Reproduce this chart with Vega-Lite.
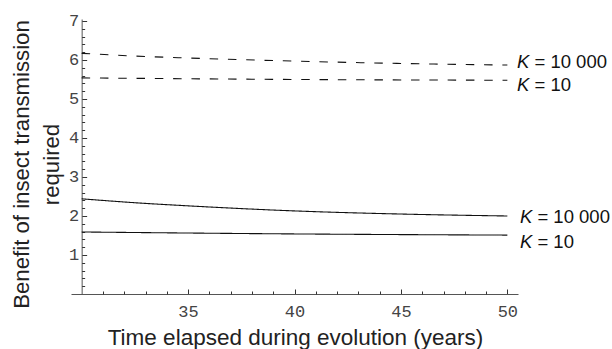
{
  "$schema": "https://vega.github.io/schema/vega-lite/v6.json",
  "width": 447,
  "height": 275,
  "autosize": {"type": "none"},
  "padding": {"left": 71, "top": 19, "right": 94, "bottom": 55},
  "background": "white",
  "config": {"view": {"stroke": null}, "axis": {"labelOverlap": false, "grid": false}},
  "datasets": {
    "curves": [
      {"t": 30, "b": 6.17, "series": "dashed K=10000", "style": "dashed"},
      {"t": 32.5, "b": 6.1, "series": "dashed K=10000", "style": "dashed"},
      {"t": 35, "b": 6.05, "series": "dashed K=10000", "style": "dashed"},
      {"t": 40, "b": 5.97, "series": "dashed K=10000", "style": "dashed"},
      {"t": 45, "b": 5.91, "series": "dashed K=10000", "style": "dashed"},
      {"t": 50, "b": 5.87, "series": "dashed K=10000", "style": "dashed"},
      {"t": 30, "b": 5.54, "series": "dashed K=10", "style": "dashed"},
      {"t": 40, "b": 5.5, "series": "dashed K=10", "style": "dashed"},
      {"t": 50, "b": 5.48, "series": "dashed K=10", "style": "dashed"},
      {"t": 30, "b": 2.44, "series": "solid K=10000", "style": "solid"},
      {"t": 32.5, "b": 2.34, "series": "solid K=10000", "style": "solid"},
      {"t": 35, "b": 2.26, "series": "solid K=10000", "style": "solid"},
      {"t": 40, "b": 2.13, "series": "solid K=10000", "style": "solid"},
      {"t": 45, "b": 2.05, "series": "solid K=10000", "style": "solid"},
      {"t": 50, "b": 2.0, "series": "solid K=10000", "style": "solid"},
      {"t": 30, "b": 1.59, "series": "solid K=10", "style": "solid"},
      {"t": 40, "b": 1.54, "series": "solid K=10", "style": "solid"},
      {"t": 50, "b": 1.51, "series": "solid K=10", "style": "solid"}
    ],
    "labels": [
      {"t": 50.45, "b": 5.95, "k": "K", "rest": "= 10 000"},
      {"t": 50.45, "b": 5.36, "k": "K", "rest": "= 10"},
      {"t": 50.59, "b": 1.97, "k": "K", "rest": "= 10 000"},
      {"t": 50.59, "b": 1.33, "k": "K", "rest": "= 10"}
    ]
  },
  "resolve": {"axis": {"x": "independent", "y": "independent"}},
  "layer": [
    {
      "data": {"name": "curves"},
      "mark": {"type": "line", "interpolate": "monotone", "strokeWidth": 1.1, "color": "#111"},
      "encoding": {
        "x": {
          "field": "t", "type": "quantitative",
          "scale": {"domain": [29.5, 50.5], "nice": false, "zero": false},
          "axis": {
            "orient": "bottom",
            "title": "Time elapsed during evolution (years)",
            "values": [35, 40, 45, 50],
            "labelOverlap": false,
            "labelBound": false,
            "labelFlush": false,
            "tickSize": -5,
            "labelPadding": 14,
            "labelFont": "Liberation Mono",
            "labelFontSize": 17,
            "labelColor": "#444",
            "domainColor": "#555",
            "tickColor": "#333",
            "titleFont": "Liberation Sans",
            "titleFontSize": 22.5,
            "titleFontWeight": "normal",
            "titleColor": "#222",
            "titleX": 224,
            "titleY": 50,
            "titleAnchor": "middle",
            "titleAlign": "center",
            "titleBaseline": "alphabetic"
          }
        },
        "y": {
          "field": "b", "type": "quantitative",
          "scale": {"domain": [0, 7.05], "nice": false, "zero": true},
          "axis": {
            "orient": "left",
            "title": ["Benefit of insect transmission", "required"],
            "values": [1, 2, 3, 4, 5, 6, 7],
            "labelOverlap": false,
            "labelBound": false,
            "labelFlush": false,
            "offset": -10.65,
            "tickSize": -5,
            "labelPadding": 8,
            "labelFont": "Liberation Mono",
            "labelFontSize": 17,
            "labelColor": "#444",
            "domainColor": "#555",
            "tickColor": "#333",
            "titleFont": "Liberation Sans",
            "titleFontSize": 22.2,
            "titleFontWeight": "normal",
            "titleColor": "#222",
            "titleLineHeight": 30,
            "titleAngle": -90,
            "titleX": -53,
            "titleY": 145,
            "titleAlign": "center",
            "titleBaseline": "alphabetic"
          }
        },
        "detail": {"field": "series"},
        "strokeDash": {
          "field": "style", "type": "nominal",
          "scale": {"domain": ["dashed", "solid"], "range": [[8.5, 9.8], [1, 0]]},
          "legend": null
        }
      }
    },
    {
      "data": {"name": "labels"},
      "mark": {"type": "text", "align": "left", "baseline": "middle", "font": "Liberation Sans", "fontSize": 18.5, "fontStyle": "italic", "color": "#111"},
      "encoding": {
        "x": {
          "field": "t", "type": "quantitative",
          "axis": {
            "orient": "bottom",
            "title": null,
            "values": [31, 32, 33, 34, 36, 37, 38, 39, 41, 42, 43, 44, 46, 47, 48, 49],
            "labels": false,
            "domain": false,
            "tickSize": -3,
            "tickColor": "#333"
          }
        },
        "y": {
          "field": "b", "type": "quantitative",
          "axis": {
            "orient": "left",
            "title": null,
            "offset": -10.65,
            "values": [0.2,0.4,0.6,0.8,1.2,1.4,1.6,1.8,2.2,2.4,2.6,2.8,3.2,3.4,3.6,3.8,4.2,4.4,4.6,4.8,5.2,5.4,5.6,5.8,6.2,6.4,6.6,6.8],
            "labels": false,
            "domain": false,
            "tickSize": -3,
            "tickColor": "#333"
          }
        },
        "text": {"field": "k"}
      }
    },
    {
      "data": {"name": "labels"},
      "mark": {"type": "text", "align": "left", "baseline": "middle", "font": "Liberation Sans", "fontSize": 18.5, "dx": 17.5, "color": "#111"},
      "encoding": {
        "x": {"field": "t", "type": "quantitative", "axis": null},
        "y": {"field": "b", "type": "quantitative", "axis": null},
        "text": {"field": "rest"}
      }
    }
  ]
}
